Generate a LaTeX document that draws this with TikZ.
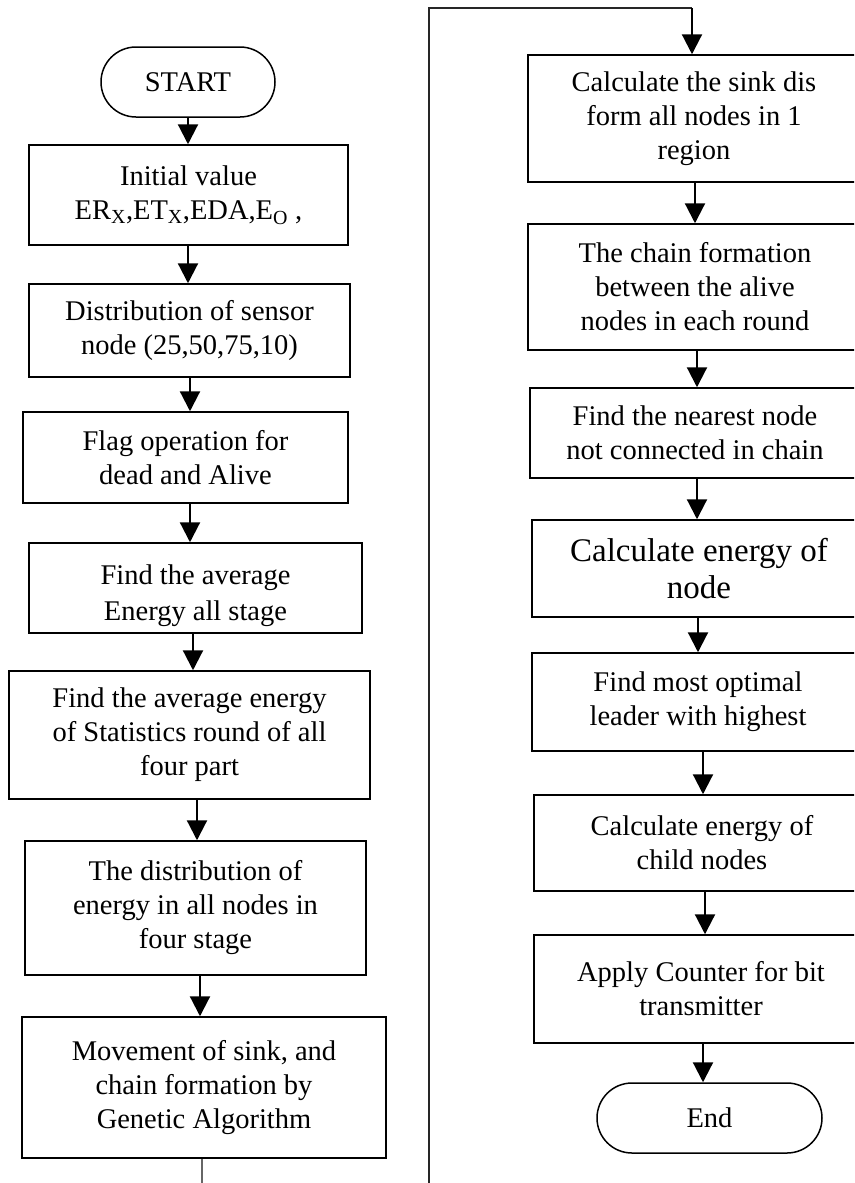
\documentclass[tikz,border=0pt]{standalone}
\usepackage{fontspec}
\setmainfont{Liberation Serif}
\usetikzlibrary{arrows.meta,shapes.misc}
\begin{document}
\begin{tikzpicture}[x=1pt,y=-1pt,
  box/.style={draw=black,line width=1.5pt,inner sep=0pt,align=center,
    font=\fontsize{28.5}{34}\selectfont},
  term/.style={draw=black,line width=1.5pt,rounded rectangle,inner sep=0pt,
    font=\fontsize{28.5}{34}\selectfont},
  arr/.style={draw=black,line width=2.2pt,-{Triangle[length=20pt,width=20pt]}},
  conn/.style={draw=black!85,line width=1.8pt},
  thin/.style={draw=black!60,line width=1.2pt}]
\useasboundingbox (0,0) rectangle (854,1183);
\clip (0,0) rectangle (854,1183);
% left column
\node[term,minimum width=174pt,minimum height=70pt] (st) at (188,82) {START};
\node[box,minimum width=319pt,minimum height=100pt] (b1) at (188.5,195)
  {Initial value\\ER\textsubscript{X},ET\textsubscript{X},EDA,E\textsubscript{O} ,};
\node[box,minimum width=321pt,minimum height=93pt] (b2) at (189.5,330.5)
  {Distribution of sensor\\node (25,50,75,10)};
\node[box,minimum width=325pt,minimum height=91pt] (b3) at (185.5,457.5)
  {Flag operation for\\dead and Alive};
\node[box,minimum width=333pt,minimum height=90pt] (b4) at (195.5,588) {};
\begin{scope}
\clip (29,543) rectangle (362,633);
\node[anchor=base,inner sep=0pt,font=\fontsize{28.5}{34}\selectfont] (t4a) at (195.5,584) {Find the average};
\node[anchor=base,inner sep=0pt,font=\fontsize{28.5}{34}\selectfont] (t4b) at (195.5,620) {Energy all stage};
\end{scope}
\node[box,minimum width=361pt,minimum height=128pt] (b5) at (189.5,735)
  {Find the average energy\\of Statistics round of all\\four part};
\node[box,minimum width=341pt,minimum height=134pt] (b6) at (195.5,908)
  {The distribution of\\energy in all nodes in\\four stage};
\node[box,minimum width=364pt,minimum height=141pt] (b7) at (204,1087.5)
  {Movement of sink, and\\chain formation by\\Genetic Algorithm};
% right column
\node[box,minimum width=332pt,minimum height=127pt] (r1) at (694,118.5)
  {Calculate the sink dis\\form all nodes in 1\\region};
\node[box,minimum width=334pt,minimum height=126pt] (r2) at (695,287)
  {The chain formation\\between the alive\\nodes in each round};
\node[box,minimum width=330pt,minimum height=90pt] (r3) at (695,433)
  {Find the nearest node\\not connected in chain};
\node[box,minimum width=334pt,minimum height=97pt,font=\fontsize{33}{37}\selectfont] (r4) at (699,568.5)
  {Calculate energy of\\node};
\node[box,minimum width=332pt,minimum height=98pt] (r5) at (698,702)
  {Find most optimal\\leader with highest};
\node[box,minimum width=336pt,minimum height=96pt] (r6) at (702,843)
  {Calculate energy of\\child nodes};
\node[box,minimum width=334pt,minimum height=108pt] (r7) at (701,989)
  {Apply Counter for bit\\transmitter};
\node[term,minimum width=225pt,minimum height=70pt] (en) at (709.5,1118) {End};
% left arrows
\draw[arr] (188,0 |- st.south) -- (188,0 |- b1.north);
\draw[arr] (188,0 |- b1.south) -- (188,0 |- b2.north);
\draw[arr] (190,0 |- b2.south) -- (190,0 |- b3.north);
\draw[arr] (190,0 |- b3.south) -- (190,0 |- b4.north);
\draw[arr] (193,0 |- b4.south) -- (193,0 |- b5.north);
\draw[arr] (197,0 |- b5.south) -- (197,0 |- b6.north);
\draw[arr] (200,0 |- b6.south) -- (200,0 |- b7.north);
\coordinate (lout) at (202,1183);
\draw[thin] (202,0 |- b7.south) -- (lout);
% long connector
\coordinate (cin) at (429,1183);
\coordinate (ctop) at (429,8);
\draw[conn] (cin) -- (ctop) -- (692,8);
\draw[arr] (692,8) -- (692,0 |- r1.north);
% right arrows
\draw[arr] (695,0 |- r1.south) -- (695,0 |- r2.north);
\draw[arr] (697,0 |- r2.south) -- (697,0 |- r3.north);
\draw[arr] (697,0 |- r3.south) -- (697,0 |- r4.north);
\draw[arr] (698,0 |- r4.south) -- (698,0 |- r5.north);
\draw[arr] (703,0 |- r5.south) -- (703,0 |- r6.north);
\draw[arr] (705,0 |- r6.south) -- (705,0 |- r7.north);
\draw[arr] (703,0 |- r7.south) -- (703,0 |- en.north);
\end{tikzpicture}
\end{document}
